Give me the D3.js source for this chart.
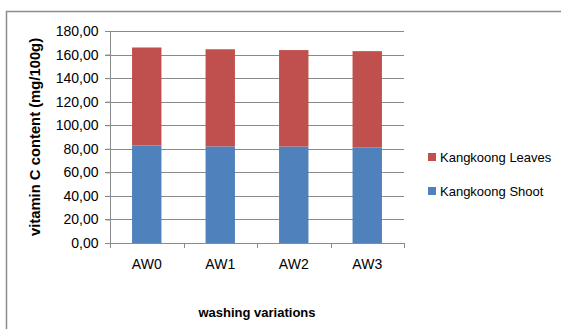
<!DOCTYPE html>
<html>
<head>
<meta charset="utf-8">
<script src="https://cdn.jsdelivr.net/npm/d3@7"></script>
<style>
  body { margin: 0; background: #fff; }
  svg { font-family: "Liberation Sans", Arial, sans-serif; }
</style>
</head>
<body>
<div id="chart"></div>
<script>
// data
var categories = ['AW0', 'AW1', 'AW2', 'AW3']
var shoot = [82.8, 82.0, 81.9, 81.2]
var leaves = [83.2, 82.5, 81.9, 81.7]
var seriesNames = ['Kangkoong Shoot', 'Kangkoong Leaves']
var yTicks = [0, 20, 40, 60, 80, 100, 120, 140, 160, 180]

var W = 561, H = 329
var colors = { 'Kangkoong Shoot': '#4f81bd', 'Kangkoong Leaves': '#c0504d' }
var fmt = function (d) { return d3.format('.2f')(d).replace('.', ',') }

var svg = d3.select('#chart').append('svg')
  .attr('width', W)
  .attr('height', H)

// outer chart border (runs off the right and bottom)
svg.append('rect')
  .attr('x', 6.5).attr('y', 11.5)
  .attr('width', 700).attr('height', 400)
  .attr('fill', 'none')
  .attr('stroke', '#8c8c8c')
  .attr('stroke-width', 1.5)

// Scales
var x = d3.scaleBand()
  .domain(categories)
  .range([110, 404])
  .paddingInner(0.6)
  .paddingOuter(0.3)
var y = d3.scaleLinear()
  .domain([0, 180])
  .range([243, 31])

// gridlines
svg.append('g')
  .selectAll('line')
  .data(yTicks)
  .enter()
  .append('line')
  .attr('x1', 105).attr('x2', 404)
  .attr('y1', function (d) { return Math.round(y(d)) + 0.5 })
  .attr('y2', function (d) { return Math.round(y(d)) + 0.5 })
  .attr('stroke', '#8a8a8a')

// stacked bars
var table = categories.map(function (c, i) {
  return { cat: c, 'Kangkoong Shoot': shoot[i], 'Kangkoong Leaves': leaves[i] }
})
var stack = d3.stack().keys(seriesNames)(table)

svg.append('g')
  .selectAll('g')
  .data(stack)
  .enter()
  .append('g')
  .attr('fill', function (d) { return colors[d.key] })
  .selectAll('rect')
  .data(function (d) { return d })
  .enter()
  .append('rect')
  .attr('x', function (d) { return x(d.data.cat) })
  .attr('width', x.bandwidth())
  .attr('y', function (d) { return y(d[1]) })
  .attr('height', function (d) { return y(d[0]) - y(d[1]) })

// Y-axis
var yAxis = d3.axisLeft(y)
  .tickValues(yTicks)
  .tickFormat(fmt)
  .tickSize(5)
  .tickPadding(7)
var gy = svg.append('g')
  .attr('transform', 'translate(110.5,0)')
  .call(yAxis)
gy.select('.domain').attr('stroke', '#8a8a8a').attr('d', 'M0,31V248')
gy.selectAll('.tick line').attr('stroke', '#8a8a8a')
gy.selectAll('text')
  .attr('fill', '#000')
  .style('font-size', '14px')

// X-axis
var xAxis = d3.axisBottom(x).tickSize(0).tickPadding(16)
var gx = svg.append('g')
  .attr('transform', 'translate(0,243.5)')
  .call(xAxis)
gx.select('.domain').remove()
gx.selectAll('text')
  .attr('fill', '#000')
  .style('font-size', '14px')
// category boundary ticks
svg.append('g')
  .selectAll('line')
  .data(d3.range(categories.length + 1))
  .enter()
  .append('line')
  .attr('x1', function (i) { return Math.round(110 + i * x.step()) + 0.5 })
  .attr('x2', function (i) { return Math.round(110 + i * x.step()) + 0.5 })
  .attr('y1', 243).attr('y2', 248)
  .attr('stroke', '#8a8a8a')

// axis titles
svg.append('text')
  .attr('transform', 'translate(40,137) rotate(-90)')
  .attr('text-anchor', 'middle')
  .style('font-size', '14.8px')
  .style('font-weight', 'bold')
  .text('vitamin C content (mg/100g)')

svg.append('text')
  .attr('x', 257).attr('y', 317)
  .attr('text-anchor', 'middle')
  .style('font-size', '13px')
  .style('font-weight', 'bold')
  .text('washing variations')

// legend
var legendItems = ['Kangkoong Leaves', 'Kangkoong Shoot']
var legend = svg.append('g')
  .selectAll('g')
  .data(legendItems)
  .enter()
  .append('g')
  .attr('transform', function (d, i) { return 'translate(428,' + (153 + i * 34) + ')' })
legend.append('rect')
  .attr('width', 8).attr('height', 8)
  .attr('fill', function (d) { return colors[d] })
legend.append('text')
  .attr('x', 12).attr('y', 9)
  .style('font-size', '13px')
  .text(function (d) { return d })
</script>
</body>
</html>
